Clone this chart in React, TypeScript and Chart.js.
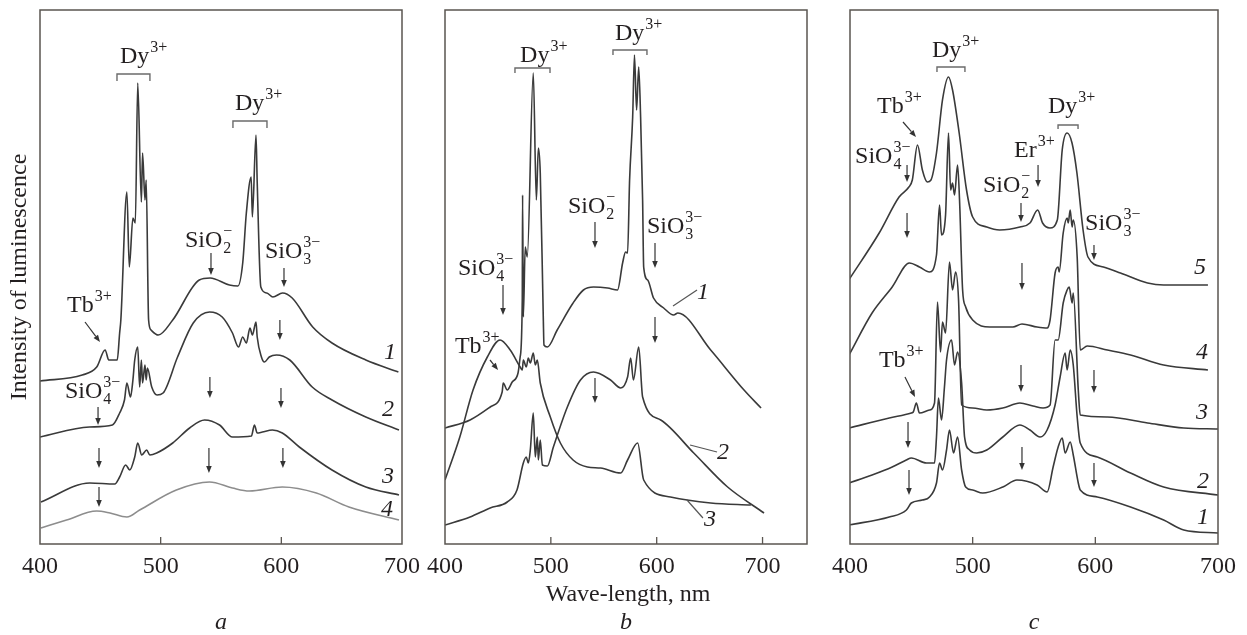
import React, { useEffect, useRef } from "react";
import { Chart, registerables } from "chart.js";

Chart.register(...registerables);

type Pt = [number, number];

// x tick labels (nm)
const tickValues = [400, 500, 600, 700];

// ---------- Panel a : intensity (arb. units) vs wavelength (nm) ----------
const a1: Pt[] = [[400,163],[435,169],[447,177],[454,194],[457,184],[464,184],[466,211],[467,224],[472,352],[474,277],[477,326],[479,321],[481,461],[484,342],[485,391],[487,344],[488,364],[490,224],[492,214],[498,209],[510,224],[532,264],[541,266],[557,259],[564,258],[568,281],[571,331],[575,367],[576,327],[579,409],[580,362],[583,257],[588,251],[593,247],[601,251],[609,246],[626,217],[642,201],[670,184],[697,172]];
const a2: Pt[] = [[400,107],[441,117],[460,119],[466,131],[470,144],[472,161],[475,147],[477,164],[478.5,184],[481,197],[482.6,157],[484,184],[485,161],[487,179],[488,164],[489,176],[492.6,157],[497,149],[502,151],[514,187],[527,221],[540.5,232],[551,227],[559.5,211],[564.5,197],[568,207],[571,201],[574,216],[576,209],[579,222],[580,207],[583.5,187],[586,182],[590,187],[596,189],[607,184],[625.6,157],[642,144],[670,127],[697.5,114]];
const a3: Pt[] = [[400.8,42],[441.3,61],[462,60],[466,67],[471,79],[474.4,74],[478.5,87],[481,101],[484.3,89],[488.4,94],[491,89],[496.7,91],[510,101],[524,116],[536.4,124],[548.8,119],[559.5,107],[575.2,108],[577.7,119],[580,111],[584.3,112],[592.6,114],[600.8,111],[614.9,97],[642,74],[670,57],[697.5,49]];
const a4: Pt[] = [[400.8,16],[422,24],[447,33],[458,31],[472,27],[482.6,34],[513,54],[540.5,62],[559.5,56],[573.5,53],[600.8,57],[629,51],[656,37],[697.5,24]];

// ---------- Panel b ----------
const b1: Pt[] = [[400,116],[423.7,124],[442.7,137],[454,152],[455,161],[458.8,154],[463.5,162],[469,171],[471,187],[473,244],[473.3,349],[474,227],[475.8,297],[477.7,287],[483.4,471],[486.3,344],[488.2,396],[490,371],[492.9,224],[493.5,199],[496.7,197],[506,214],[521,241],[530.8,254],[540.3,257],[553.6,256],[563,254],[567.8,281],[570.6,292],[572.5,291],[574.4,364],[577.3,427],[579,489],[581,434],[583,477],[584.8,427],[586.7,344],[587.7,277],[591.5,264],[597,246],[606.6,236],[616,229],[620,231],[651,194],[682.5,154],[698.6,136]];
const b2: Pt[] = [[400,19],[423.7,27],[442.7,36],[458.8,42],[468,54],[474,81],[476.8,87],[478.7,81],[480.6,94],[483.4,131],[485.3,87],[487.2,107],[488.2,84],[490,104],[492,79],[496.7,78],[502.4,97],[515.6,137],[528,164],[540.3,172],[556.4,164],[566,156],[572.5,167],[575.4,186],[578,164],[583,197],[586.7,147],[603.8,124],[635,91],[667,57],[701.4,31]];
const b3: Pt[] = [[400,64],[414,107],[426.5,154],[440,187],[452,204],[461.6,194],[471,177],[473,174],[474,184],[476.8,177],[478.7,186],[480.6,181],[483.4,191],[485.3,179],[487.2,184],[490,161],[499.5,127],[509,101],[521,84],[534.6,77],[547,76],[566,71],[572.5,84],[582,101],[587.7,64],[613,47],[651,41],[689,39]];

// ---------- Panel c ----------
const c1: Pt[] = [[399.2,19],[432,27],[446,34],[450,41],[459,44],[464.8,47],[470.5,61],[473,81],[475.4,74],[478.7,94],[481.1,114],[484.4,91],[487.7,107],[491,74],[494.3,57],[500,54],[508.2,51],[524.6,57],[536.1,64],[552.5,59],[560.7,52],[565.6,77],[569.7,97],[573,106],[575.4,91],[579.5,102],[582,89],[586.1,61],[587.7,54],[601.6,47],[628.7,37],[655.7,24],[672.1,14],[700,11]];
const c2: Pt[] = [[399.2,61],[418,69],[434.4,77],[445.9,84],[450,86],[462.3,81],[468.9,81],[470.5,107],[472.1,146],[474.6,124],[477,157],[478.7,184],[482.8,204],[485.2,179],[487.7,192],[491,161],[493.4,107],[497.5,94],[503.3,91],[511.5,94],[524.6,107],[538.5,119],[546.7,114],[554.9,107],[560.7,114],[567.2,139],[571.3,167],[575.4,191],[577,174],[579.5,194],[582,179],[585.2,127],[587.7,101],[601.6,87],[628.7,71],[655.7,57],[700,49]];
const c3: Pt[] = [[399.2,116],[432,126],[450,131],[451.6,132],[454.1,141],[456.6,131],[464.8,134],[468.9,141],[471.3,242],[473.8,192],[475.4,222],[477.9,211],[481.1,282],[483.6,254],[486.1,272],[488.5,244],[491,139],[500,136],[511.5,134],[524.6,136],[538.5,141],[549.2,138],[557.4,136],[563.1,139],[567.2,204],[569.7,204],[573.8,241],[577,254],[578.7,257],[581.1,241],[582,251],[586.1,154],[587.7,129],[609.8,127],[642.6,121],[672.1,116],[700,115]];
const c4: Pt[] = [[399.2,189],[418,231],[434.4,257],[448.4,281],[456.6,277],[464.8,272],[470.5,289],[473,339],[474.6,309],[477.9,329],[480.3,411],[482,354],[483.6,361],[485.2,349],[487.7,379],[489.3,344],[491.8,254],[494.3,237],[500,224],[514,217],[532.8,217],[540.2,220],[552.5,217],[560.7,216],[563.1,224],[567.2,271],[569.7,277],[570.5,272],[573.8,311],[577,326],[577.9,321],[579.5,334],[581.1,317],[582,324],[585.2,287],[587.7,194],[593.4,198],[609.8,194],[628.7,189],[655.7,179],[691.8,174]];
const c5: Pt[] = [[399,264],[423.8,311],[440,347],[448,357],[450.8,364],[455,399],[459,374],[463,362],[466,364],[470.5,391],[475.4,444],[480.3,467],[483.6,454],[489,411],[495,354],[500,327],[511.5,317],[522,314],[538.5,317],[546.7,321],[553,334],[557,321],[563,316],[569,324],[573,394],[577,411],[581,401],[585,371],[590,314],[594,287],[606.6,277],[620.5,271],[642.6,261],[655.7,259],[691.8,259]];

// ---------- annotations (data units: nm, intensity) ----------
type Chem = { x: number; y: number; base: string; sub?: string; sup?: string };
type Arrow = [number, number, number]; // x, yFrom, yTo (vertical)
type Diag = [number, number, number, number];
type Bracket = [number, number, number, number]; // x1, x2, yTop, yTick
type CurveLabel = { t: string; x: number; y: number; leader?: [number, number, number, number] };

const aChems: Chem[] = [
  { x: 466.3, y: 481, base: "Dy", sup: "3+" },
  { x: 561.6, y: 434, base: "Dy", sup: "3+" },
  { x: 520.1, y: 297, base: "SiO", sub: "2", sup: "\u2212" },
  { x: 586.4, y: 286, base: "SiO", sub: "3", sup: "3\u2212" },
  { x: 422.4, y: 232, base: "Tb", sup: "3+" },
  { x: 420.7, y: 146, base: "SiO", sub: "4", sup: "3\u2212" },
];
const aBrackets: Bracket[] = [[463.8, 491.1, 470, 463], [559.9, 588.1, 423, 416]];
const aArrows: Arrow[] = [[541.7,291,269],[602.2,276,257],[598.8,224,204],[540.8,167,146],[599.7,156,136],[448.1,137,119],[448.9,96,76],[540,96,71],[601.3,96,76],[448.9,57,37]];
const aDiags: Diag[] = [[437.3, 222, 449.7, 202]];
const aLabels: CurveLabel[] = [
  { t: "1", x: 690, y: 191 }, { t: "2", x: 688.3, y: 134 },
  { t: "3", x: 688.3, y: 67 }, { t: "4", x: 687.5, y: 34 },
];

const bChems: Chem[] = [
  { x: 470.9, y: 482, base: "Dy", sup: "3+" },
  { x: 560.6, y: 504, base: "Dy", sup: "3+" },
  { x: 516.2, y: 331, base: "SiO", sub: "2", sup: "\u2212" },
  { x: 590.8, y: 311, base: "SiO", sub: "3", sup: "3\u2212" },
  { x: 412.3, y: 269, base: "SiO", sub: "4", sup: "3\u2212" },
  { x: 409.4, y: 191, base: "Tb", sup: "3+" },
];
const bBrackets: Bracket[] = [[466.1, 499.2, 476, 471], [558.7, 590.8, 494, 489]];
const bArrows: Arrow[] = [[541.7,322,296],[541.7,166,141],[598.4,301,276],[598.4,227,201],[454.8,259,229]];
const bDiags: Diag[] = [[442.5, 184, 450.1, 174]];
const bLabels: CurveLabel[] = [
  { t: "1", x: 643.7, y: 251, leader: [615.4, 238, 638.1, 254] },
  { t: "2", x: 662.6, y: 91, leader: [631.5, 99, 657, 92] },
  { t: "3", x: 650.4, y: 24, leader: [628.6, 44, 643.7, 26] },
];

const cChems: Chem[] = [
  { x: 466.8, y: 487, base: "Dy", sup: "3+" },
  { x: 561.4, y: 431, base: "Dy", sup: "3+" },
  { x: 422, y: 431, base: "Tb", sup: "3+" },
  { x: 404.1, y: 381, base: "SiO", sub: "4", sup: "3\u2212" },
  { x: 533.7, y: 387, base: "Er", sup: "3+" },
  { x: 508.4, y: 352, base: "SiO", sub: "2", sup: "\u2212" },
  { x: 591.6, y: 314, base: "SiO", sub: "3", sup: "3\u2212" },
  { x: 423.6, y: 177, base: "Tb", sup: "3+" },
];
const cBrackets: Bracket[] = [[470.9, 493.7, 477, 472], [569.6, 585.9, 419, 415]];
const cArrows: Arrow[] = [[446.5,379,362],[446.5,331,306],[553.3,379,357],[539.4,341,322],[540.2,281,254],[598.9,299,284],[539.4,179,152],[598.9,174,151],[447.3,122,96],[540.2,97,74],[448.1,74,49],[598.9,81,57]];
const cDiags: Diag[] = [[443.2, 422, 453.8, 407], [444.8, 167, 453, 147]];
const cLabels: CurveLabel[] = [
  { t: "5", x: 685.3, y: 276 }, { t: "4", x: 686.9, y: 191 }, { t: "3", x: 686.9, y: 131 },
  { t: "2", x: 687.8, y: 62 }, { t: "1", x: 687.8, y: 26 },
];

const SERIF = '"Liberation Serif", "Times New Roman", serif';
const INK = "#231f20";
const LINE = "#3a3a3a";
const W = 1247;
const H = 635;

type PanelDef = {
  id: string;
  letter: string;
  left: number;
  right: number;
  xMax: number;
  series: { data: Pt[]; color: string }[];
  chems: Chem[];
  arrows: Arrow[];
  diags: Diag[];
  brackets: Bracket[];
  labels: CurveLabel[];
  innerTicks: number[];
  yTitle?: string;
  xTitle?: string;
};

const panels: PanelDef[] = [
  {
    id: "a", letter: "a", left: 40, right: 402, xMax: 700,
    series: [
      { data: a1, color: LINE }, { data: a2, color: LINE },
      { data: a3, color: LINE }, { data: a4, color: "#8d8d8d" },
    ],
    chems: aChems, arrows: aArrows, diags: aDiags, brackets: aBrackets, labels: aLabels,
    innerTicks: [500, 600], yTitle: "Intensity of luminescence",
  },
  {
    id: "b", letter: "b", left: 445, right: 807, xMax: 742,
    series: [{ data: b1, color: LINE }, { data: b2, color: LINE }, { data: b3, color: LINE }],
    chems: bChems, arrows: bArrows, diags: bDiags, brackets: bBrackets, labels: bLabels,
    innerTicks: [500, 600, 700], xTitle: "Wave-length, nm",
  },
  {
    id: "c", letter: "c", left: 850, right: 1218, xMax: 700,
    series: [
      { data: c1, color: LINE }, { data: c2, color: LINE }, { data: c3, color: LINE },
      { data: c4, color: LINE }, { data: c5, color: LINE },
    ],
    chems: cChems, arrows: cArrows, diags: cDiags, brackets: cBrackets, labels: cLabels,
    innerTicks: [500, 600],
  },
];

function drawArrow(ctx: CanvasRenderingContext2D, x1: number, y1: number, x2: number, y2: number) {
  const ang = Math.atan2(y2 - y1, x2 - x1);
  const len = 7;
  const hw = 2.8;
  const bx = x2 - len * Math.cos(ang);
  const by = y2 - len * Math.sin(ang);
  ctx.beginPath();
  ctx.moveTo(x1, y1);
  ctx.lineTo(bx, by);
  ctx.stroke();
  ctx.beginPath();
  ctx.moveTo(x2, y2);
  ctx.lineTo(bx + hw * Math.sin(ang), by - hw * Math.cos(ang));
  ctx.lineTo(bx - hw * Math.sin(ang), by + hw * Math.cos(ang));
  ctx.closePath();
  ctx.fill();
}

function decorPlugin(p: PanelDef) {
  return {
    id: "decor-" + p.id,
    afterDraw(chart: any) {
      const ctx: CanvasRenderingContext2D = chart.ctx;
      const xs = chart.scales.x;
      const ys = chart.scales.y;
      const { left, right, top, bottom } = chart.chartArea;
      const X = (v: number) => xs.getPixelForValue(v);
      const Y = (v: number) => ys.getPixelForValue(v);
      ctx.save();

      // frame
      ctx.strokeStyle = "#5a5550";
      ctx.lineWidth = 1.5;
      ctx.strokeRect(left, top, right - left, bottom - top);
      // inner ticks
      ctx.lineWidth = 1.3;
      p.innerTicks.forEach((v) => {
        const px = X(v);
        ctx.beginPath();
        ctx.moveTo(px, bottom);
        ctx.lineTo(px, bottom - 7);
        ctx.stroke();
      });

      // brackets
      ctx.strokeStyle = "#6b6b6b";
      ctx.lineWidth = 1.4;
      p.brackets.forEach(([x1, x2, yt, yk]) => {
        ctx.beginPath();
        ctx.moveTo(X(x1), Y(yk));
        ctx.lineTo(X(x1), Y(yt));
        ctx.lineTo(X(x2), Y(yt));
        ctx.lineTo(X(x2), Y(yk));
        ctx.stroke();
      });

      // arrows
      ctx.strokeStyle = "#333";
      ctx.fillStyle = "#333";
      ctx.lineWidth = 1.2;
      p.arrows.forEach(([x, y1, y2]) => drawArrow(ctx, X(x), Y(y1), X(x), Y(y2)));
      p.diags.forEach(([x1, y1, x2, y2]) => drawArrow(ctx, X(x1), Y(y1), X(x2), Y(y2)));

      // chemical labels
      ctx.fillStyle = INK;
      ctx.textAlign = "left";
      ctx.textBaseline = "alphabetic";
      p.chems.forEach((c) => {
        const px = X(c.x);
        const py = Y(c.y);
        ctx.font = `24px ${SERIF}`;
        ctx.fillText(c.base, px, py);
        const w = ctx.measureText(c.base).width;
        ctx.font = `16px ${SERIF}`;
        if (c.sub) ctx.fillText(c.sub, px + w + 1, py + 6);
        if (c.sup) ctx.fillText(c.sup, px + w + 1, py - 11);
      });

      // curve labels
      ctx.font = `italic 24px ${SERIF}`;
      ctx.textAlign = "center";
      ctx.textBaseline = "middle";
      p.labels.forEach((l) => {
        if (l.leader) {
          ctx.strokeStyle = "#555";
          ctx.lineWidth = 1.2;
          ctx.beginPath();
          ctx.moveTo(X(l.leader[0]), Y(l.leader[1]));
          ctx.lineTo(X(l.leader[2]), Y(l.leader[3]));
          ctx.stroke();
        }
        ctx.fillText(l.t, X(l.x), Y(l.y));
      });

      // panel letter
      ctx.font = `italic 24px ${SERIF}`;
      ctx.fillText(p.letter, (left + right) / 2, 623);

      ctx.font = `24px ${SERIF}`;
      if (p.xTitle) ctx.fillText(p.xTitle, (left + right) / 2 + 2, 595);
      if (p.yTitle) {
        ctx.translate(20, (top + bottom) / 2);
        ctx.rotate(-Math.PI / 2);
        ctx.fillText(p.yTitle, 0, 0);
      }
      ctx.restore();
    },
  };
}

function makeConfig(p: PanelDef): any {
  return {
    type: "line",
    data: {
      datasets: p.series.map((s) => ({
        data: s.data.map(([x, y]) => ({ x, y })),
        borderColor: s.color,
        borderWidth: 1.6,
        pointRadius: 0,
        fill: false,
        cubicInterpolationMode: "monotone",
      })),
    },
    options: {
      responsive: false,
      animation: false,
      devicePixelRatio: 1,
      events: [],
      layout: { padding: { left: p.left, right: W - p.right, top: 10, bottom: 31 } },
      plugins: { legend: { display: false }, tooltip: { enabled: false } },
      scales: {
        x: {
          type: "linear",
          min: 400,
          max: p.xMax,
          afterBuildTicks: (s: any) => {
            s.ticks = tickValues.map((v) => ({ value: v }));
          },
          afterFit: (s: any) => {
            s.height = 60;
          },
          grid: { display: false, drawTicks: false },
          border: { display: false },
          ticks: {
            font: { family: SERIF, size: 24 },
            color: INK,
            padding: 8,
            maxRotation: 0,
            autoSkip: false,
            callback: (v: any) => String(v),
          },
        },
        y: { display: false, min: 0, max: 534 },
      },
    },
    plugins: [decorPlugin(p)],
  };
}

export default function App() {
  const canvases = useRef<(HTMLCanvasElement | null)[]>([]);
  useEffect(() => {
    const charts = panels.map((p, i) => new Chart(canvases.current[i] as HTMLCanvasElement, makeConfig(p)));
    return () => charts.forEach((c) => c.destroy());
  }, []);
  return (
    <div style={{ position: "absolute", left: 0, top: 0, width: W, height: H, background: "#fff" }}>
      {panels.map((p, i) => (
        <canvas
          key={p.id}
          ref={(el) => {
            canvases.current[i] = el;
          }}
          width={W}
          height={H}
          style={{ position: "absolute", left: 0, top: 0, width: W, height: H }}
        />
      ))}
    </div>
  );
}
